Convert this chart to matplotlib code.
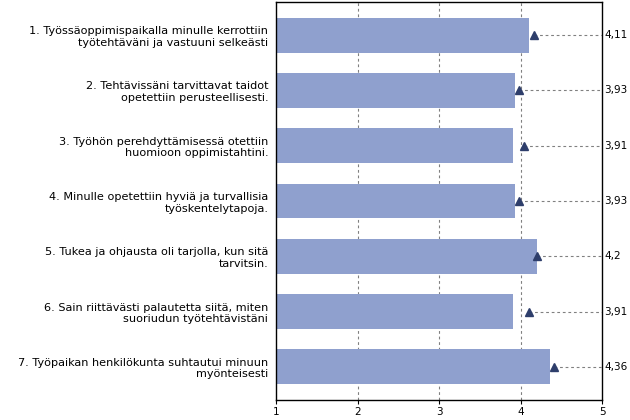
import matplotlib
matplotlib.use("Agg")
import matplotlib.pyplot as plt

labels = [
    "1. Työssäoppimispaikalla minulle kerrottiin\ntyötehtäväni ja vastuuni selkeästi",
    "2. Tehtävissäni tarvittavat taidot\nopetettiin perusteellisesti.",
    "3. Työhön perehdyttämisessä otettiin\nhuomioon oppimistahtini.",
    "4. Minulle opetettiin hyviä ja turvallisia\ntyöskentelytapoja.",
    "5. Tukea ja ohjausta oli tarjolla, kun sitä\ntarvitsin.",
    "6. Sain riittävästi palautetta siitä, miten\nsuoriudun työtehtävistäni",
    "7. Työpaikan henkilökunta suhtautui minuun\nmyönteisesti",
]
values = [4.11, 3.93, 3.91, 3.93, 4.2, 3.91, 4.36]
value_labels = ["4,11", "3,93", "3,91", "3,93", "4,2", "3,91", "4,36"]
reference = [4.16, 3.98, 4.04, 3.98, 4.20, 4.11, 4.41]
xticks = [1, 2, 3, 4, 5]

fig = plt.figure(figsize=(6.3, 4.2), dpi=100)
ax = fig.add_axes([276/630, 1-400/420, (602-276)/630, 398/420])

ypos = list(range(len(labels)))
for x in [2, 3, 4]:
    ax.axvline(x, color="#808080", linestyle=(0, (2.5, 2.5)), linewidth=0.8, zorder=0)
ax.barh(ypos, [v - 1 for v in values], left=1, height=0.63, color="#8FA0CE", zorder=2)
for y, r, t in zip(ypos, reference, value_labels):
    ax.plot([r, 5], [y, y], color="#808080", linestyle=(0, (2.5, 2.5)), linewidth=0.8, zorder=3)
    ax.text(5.03, y, t, va="center", ha="left", fontsize=7.5, color="#000000")
ax.plot(reference, ypos, linestyle="none", marker="^", markersize=5.5, color="#2E3E6B", zorder=4)

ax.set_xlim(1, 5)
ax.set_ylim(6.6, -0.6)
ax.set_xticks(xticks)
ax.set_xticklabels([str(v) for v in xticks], fontsize=7.5)
ax.set_yticks(ypos)
ax.set_yticklabels(labels, fontsize=8.1, multialignment="right")
ax.tick_params(axis="y", length=0, pad=5.5)
ax.tick_params(axis="x", length=3, pad=2)
for s in ax.spines.values():
    s.set_color("black")
    s.set_linewidth(1)

fig.savefig("out.png", dpi=100)
